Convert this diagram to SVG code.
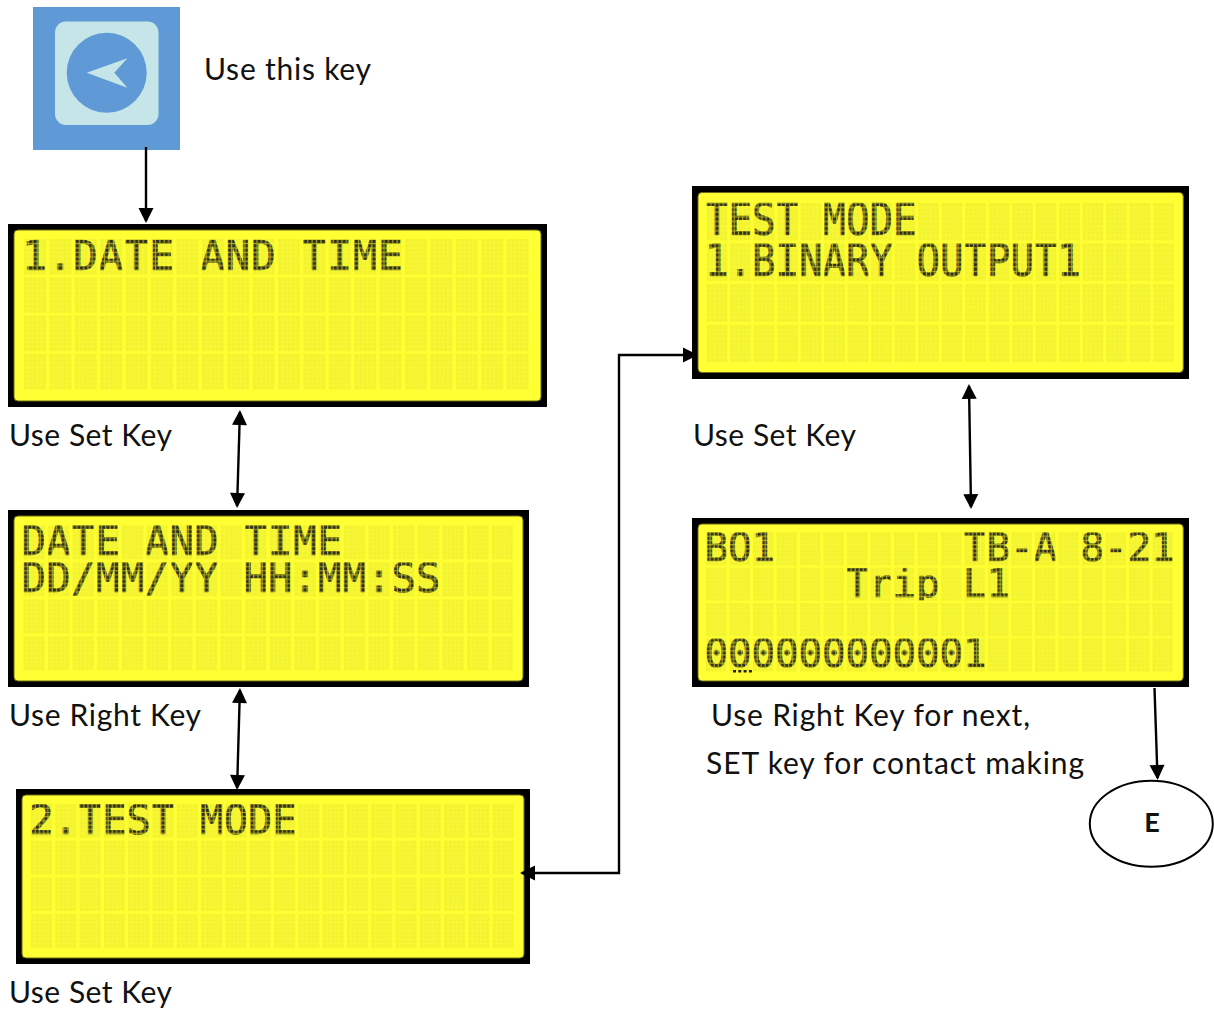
<svg xmlns="http://www.w3.org/2000/svg" width="1214" height="1010" viewBox="0 0 1214 1010">
<style>
.bezel{fill:#000}
.face{fill:#ffff33;stroke:#6b6b1a;stroke-width:1}
.lbl{font-family:"Lato","Liberation Sans",sans-serif;font-size:30px;fill:#111}
.lcd{font-family:"DejaVu Sans Mono",monospace;stroke-width:.7;white-space:pre}
.con{fill:none;stroke:#000;stroke-width:2.4}
</style>
<defs>
<g id="cellArt"><rect width="5" height="8" fill="#f3f32d"/><path d="M1 0V8M2 0V8M3 0V8M4 0V8M0 1H5M0 2H5M0 3H5M0 4H5M0 5H5M0 6H5M0 7H5" fill="none" stroke="#f9f93f" stroke-width=".16"/></g>
<g id="dotArt"><rect width="5" height="8" fill="#a8a824"/><path d="M0 .5H5M0 1.5H5M0 2.5H5M0 3.5H5M0 4.5H5M0 5.5H5M0 6.5H5M0 7.5H5" fill="none" stroke="#2e2e18" stroke-width=".72" stroke-dasharray=".72 .28" stroke-dashoffset="-.14"/></g>
<pattern id="c1" patternUnits="userSpaceOnUse" x="24" y="239" width="25.4" height="38.3"><use href="#cellArt" transform="scale(4.4 4.44)"/></pattern>
<pattern id="d1" patternUnits="userSpaceOnUse" x="24" y="239" width="25.4" height="38.3"><use href="#dotArt" transform="scale(4.4 4.44)"/></pattern>
<pattern id="c2" patternUnits="userSpaceOnUse" x="23.3" y="525.3" width="24.65" height="37"><use href="#cellArt" transform="scale(4.26 4.25)"/></pattern>
<pattern id="d2" patternUnits="userSpaceOnUse" x="23.3" y="525.3" width="24.65" height="37"><use href="#dotArt" transform="scale(4.26 4.25)"/></pattern>
<pattern id="c3" patternUnits="userSpaceOnUse" x="31" y="804" width="24.3" height="36.7"><use href="#cellArt" transform="scale(4.2 4.2)"/></pattern>
<pattern id="d3" patternUnits="userSpaceOnUse" x="31" y="804" width="24.3" height="36.7"><use href="#dotArt" transform="scale(4.2 4.2)"/></pattern>
<pattern id="c4" patternUnits="userSpaceOnUse" x="706.7" y="202.7" width="23.5" height="40.7"><use href="#cellArt" transform="scale(4.14 4.69)"/></pattern>
<pattern id="d4" patternUnits="userSpaceOnUse" x="1.91" y="202.7" width="26.4" height="40.7"><use href="#dotArt" transform="scale(4.65 4.69)"/></pattern>
<pattern id="c5" patternUnits="userSpaceOnUse" x="706" y="532.3" width="23.5" height="35.4"><use href="#cellArt" transform="scale(4.06 4.13)"/></pattern>
<pattern id="d5" patternUnits="userSpaceOnUse" x="706" y="532.3" width="23.5" height="35.4"><use href="#dotArt" transform="scale(4.06 4.13)"/></pattern>
<clipPath id="row2"><rect x="706" y="567.7" width="467" height="33"/></clipPath>
<marker id="head" markerUnits="userSpaceOnUse" markerWidth="16" markerHeight="16" refX="13" refY="8" orient="auto-start-reverse" overflow="visible"><path d="M0 .5L15 8L0 15.5Z" fill="#000"/></marker>
</defs>
<rect width="1214" height="1010" fill="#fff"/>

<g id="key-icon">
<rect x="33" y="7" width="147" height="143" fill="#5f9ad6"/>
<rect x="55" y="21.5" width="103.5" height="103.5" rx="11" fill="#c6e5e8"/>
<circle cx="106.7" cy="72.7" r="40" fill="#5f9ad6"/>
<path d="M86.7 72.7L127.3 58.3L114.3 72.7L127.3 87.7Z" fill="#c6e5e8"/>
</g>
<text class="lbl" x="204" y="80" textLength="167">Use this key</text>

<g id="lcd-date-and-time">
<rect class="bezel" x="8" y="224" width="539" height="183"/>
<rect class="face" x="14" y="230" width="527" height="171" rx="4"/>
<rect x="24" y="239" width="506" height="151" fill="url(#c1)"/>
<text class="lcd" x="22.3" y="270" font-size="41" letter-spacing=".72" fill="url(#d1)" stroke="url(#d1)">1.DATE AND TIME</text>
</g>
<text class="lbl" x="9" y="446" textLength="163">Use Set Key</text>

<g id="lcd-date-format">
<rect class="bezel" x="8" y="510" width="521" height="177"/>
<rect class="face" x="14" y="516" width="509" height="165" rx="4"/>
<rect x="23.3" y="525.3" width="490" height="145" fill="url(#c2)"/>
<text class="lcd" x="21.6" y="555" font-size="40.5" letter-spacing=".27" fill="url(#d2)" stroke="url(#d2)">DATE AND TIME</text>
<text class="lcd" x="21.6" y="592" font-size="40.5" letter-spacing=".27" fill="url(#d2)" stroke="url(#d2)">DD/MM/YY HH:MM:SS</text>
</g>
<text class="lbl" x="9" y="726" textLength="192">Use Right Key</text>

<g id="lcd-test-mode">
<rect class="bezel" x="16" y="789" width="514" height="175"/>
<rect class="face" x="22" y="795" width="502" height="163" rx="4"/>
<rect x="31" y="804" width="484" height="144.5" fill="url(#c3)"/>
<text class="lcd" x="29.3" y="833.6" font-size="40.5" letter-spacing="-.08" fill="url(#d3)" stroke="url(#d3)">2.TEST MODE</text>
</g>
<text class="lbl" x="9" y="1003" textLength="163">Use Set Key</text>

<g id="lcd-binary-output">
<rect class="bezel" x="692" y="186" width="497" height="193"/>
<rect class="face" x="698" y="192.5" width="485.3" height="180" rx="4"/>
<rect x="706.7" y="202.7" width="467.5" height="159.5" fill="url(#c4)"/>
<g transform="translate(705 0) scale(.89 1)">
<text class="lcd" x="0" y="235" font-size="44" letter-spacing="-.09" fill="url(#d4)" stroke="url(#d4)">TEST MODE</text>
<text class="lcd" x="0" y="275.7" font-size="44" letter-spacing="-.09" fill="url(#d4)" stroke="url(#d4)">1.BINARY OUTPUT1</text>
</g>
</g>
<text class="lbl" x="693" y="446" textLength="163">Use Set Key</text>

<g id="lcd-bo1">
<rect class="bezel" x="692" y="518" width="497" height="169"/>
<rect class="face" x="698" y="524" width="485.3" height="157" rx="4"/>
<rect x="706" y="532.3" width="467" height="139.5" fill="url(#c5)"/>
<text class="lcd" x="704.4" y="561" font-size="39.5" letter-spacing="-.28" fill="url(#d5)" stroke="url(#d5)">BO1</text>
<text class="lcd" x="962.9" y="561" font-size="39.5" letter-spacing="-.28" fill="url(#d5)" stroke="url(#d5)">TB-A 8-21</text>
<text class="lcd" x="845.4" y="596.7" font-size="39.5" letter-spacing="-.28" fill="url(#d5)" stroke="url(#d5)" clip-path="url(#row2)">Trip L1</text>
<text class="lcd" x="704.4" y="667.3" font-size="39.5" letter-spacing="-.28" fill="url(#d5)" stroke="url(#d5)">000000000001</text>
<path d="M733 671.2H752" fill="none" stroke="#222" stroke-width="2.6" stroke-dasharray="3 2.3"/>
</g>
<text class="lbl" x="711" y="726" textLength="319">Use Right Key for next,</text>
<text class="lbl" x="706" y="774" textLength="378">SET key for contact making</text>

<g id="node-e">
<ellipse cx="1151.3" cy="823.7" rx="61.5" ry="43" fill="#fff" stroke="#000" stroke-width="2"/>
<text x="1152" y="832" text-anchor="middle" font-family="Lato,'Liberation Sans',sans-serif" font-weight="700" font-size="27" fill="#111">E</text>
</g>

<g id="connectors">
<path class="con" d="M146 147V221" marker-end="url(#head)"/>
<path class="con" d="M239.9 412L237.1 506" marker-start="url(#head)" marker-end="url(#head)"/>
<path class="con" d="M239.9 690L237.1 788" marker-start="url(#head)" marker-end="url(#head)"/>
<path class="con" d="M522 873H619V355H696" marker-start="url(#head)" marker-end="url(#head)"/>
<path class="con" d="M969 386L971 507" marker-start="url(#head)" marker-end="url(#head)"/>
<path class="con" d="M1154.5 688L1157.5 778" marker-end="url(#head)"/>
</g>
</svg>
